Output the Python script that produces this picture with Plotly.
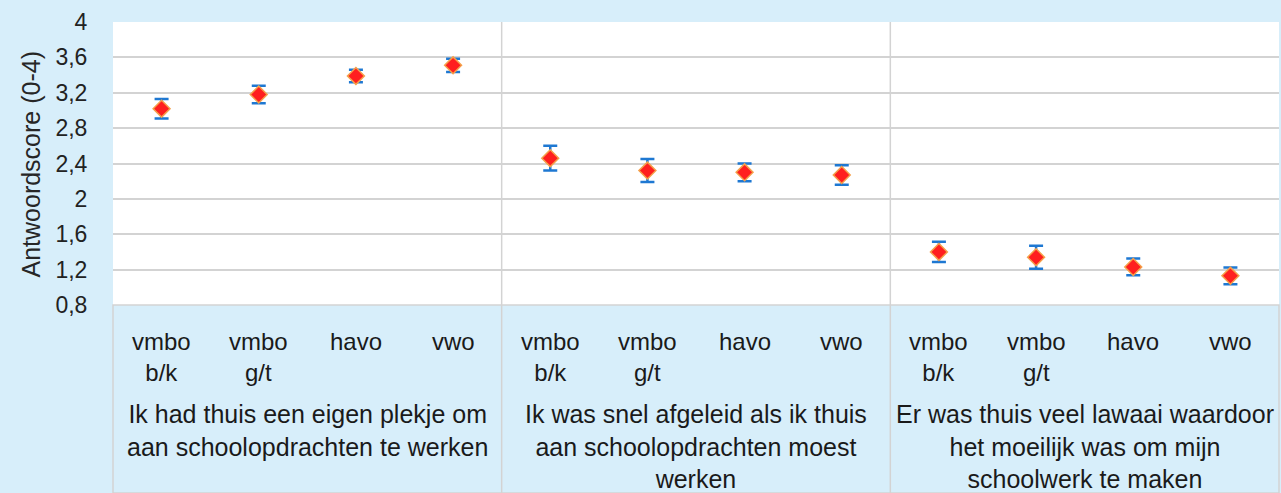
import plotly.graph_objects as go

# ---- data ----
levels = ["vmbo<br>b/k", "vmbo<br>g/t", "havo", "vwo"]
groups = [
    "Ik had thuis een eigen plekje om<br>aan schoolopdrachten te werken",
    "Ik was snel afgeleid als ik thuis<br>aan schoolopdrachten moest<br>werken",
    "Er was thuis veel lawaai waardoor<br>het moeilijk was om mijn<br>schoolwerk te maken",
]
scores_g1 = [3.02, 3.18, 3.39, 3.51]
errors_g1 = [0.11, 0.10, 0.07, 0.075]
scores_g2 = [2.46, 2.32, 2.30, 2.27]
errors_g2 = [0.14, 0.13, 0.10, 0.11]
scores_g3 = [1.40, 1.34, 1.23, 1.13]
errors_g3 = [0.115, 0.13, 0.095, 0.095]
y_title = "Antwoordscore (0-4)"

scores = scores_g1 + scores_g2 + scores_g3
errors = errors_g1 + errors_g2 + errors_g3
n_lv = len(levels)
x_pos = [g * n_lv + i + 0.5 for g in range(len(groups)) for i in range(n_lv)]

BG = "#d7eefa"
GRID = "#d3d3d3"
W, H = 1281, 493
L, R, T, B = 113, 2, 22, 188
plot_h = H - T - B

fig = go.Figure()
fig.add_trace(go.Scatter(
    x=x_pos, y=scores, mode="markers",
    marker=dict(symbol="diamond", size=13, color="#ff1f1f",
                line=dict(color="#f5a04a", width=1.5)),
    error_y=dict(type="data", array=errors, visible=True,
                 color="#1e78d2", thickness=2.5, width=7),
    showlegend=False, hoverinfo="skip",
))

shapes = []
# bottom label box
bottom = -(B) / plot_h
shapes.append(dict(type="rect", xref="paper", yref="paper", x0=0, x1=1, y0=bottom, y1=0,
                   line=dict(color=GRID, width=1.5), fillcolor=BG, layer="below"))
# group separators
for g in range(1, len(groups)):
    shapes.append(dict(type="line", xref="x", yref="paper", x0=g * n_lv, x1=g * n_lv,
                       y0=bottom, y1=1, line=dict(color=GRID, width=1.5)))

annotations = []
for xi, g_i in zip(x_pos, range(len(x_pos))):
    annotations.append(dict(x=xi, y=(305 - 326) / plot_h, xref="x", yref="paper",
                            text=levels[g_i % n_lv], showarrow=False, yanchor="top",
                            xanchor="center", align="center",
                            font=dict(family="Liberation Sans, Arial", size=24, color="#1a1a1a")))
for g, label in enumerate(groups):
    annotations.append(dict(x=g * n_lv + n_lv / 2, y=(305 - 398) / plot_h, xref="x", yref="paper",
                            text=label, showarrow=False, yanchor="top", xanchor="center",
                            align="center",
                            font=dict(family="Liberation Sans, Arial", size=25, color="#1a1a1a")))
annotations.append(dict(x=(30 - L) / (W - L - R), y=0.5 - 1 / plot_h, xref="paper", yref="paper",
                        text=y_title, textangle=-90, showarrow=False,
                        xanchor="center", yanchor="middle",
                        font=dict(family="Liberation Sans, Arial", size=25, color="#262626")))

fig.update_layout(
    width=W, height=H,
    margin=dict(l=L, r=R, t=T, b=B, autoexpand=False),
    paper_bgcolor=BG, plot_bgcolor="white",
    separators=",.",
    xaxis=dict(range=[0, len(groups) * n_lv], showgrid=False, zeroline=False,
               showticklabels=False, ticks="", showline=False, fixedrange=True),
    yaxis=dict(range=[0.8, 4], dtick=0.4, tick0=0.8, showgrid=True, gridcolor=GRID,
               gridwidth=1.5, zeroline=False, showline=False,
               ticks="outside", ticklen=20, tickcolor="rgba(0,0,0,0)",
               tickfont=dict(family="Liberation Sans, Arial", size=23, color="#222222"),
               fixedrange=True),
    shapes=shapes, annotations=annotations,
    font=dict(family="Liberation Sans, Arial"),
)

fig.write_html("out.html", config={"displayModeBar": False},
               post_script="document.body.style.margin='0';document.body.style.overflow='hidden';")
